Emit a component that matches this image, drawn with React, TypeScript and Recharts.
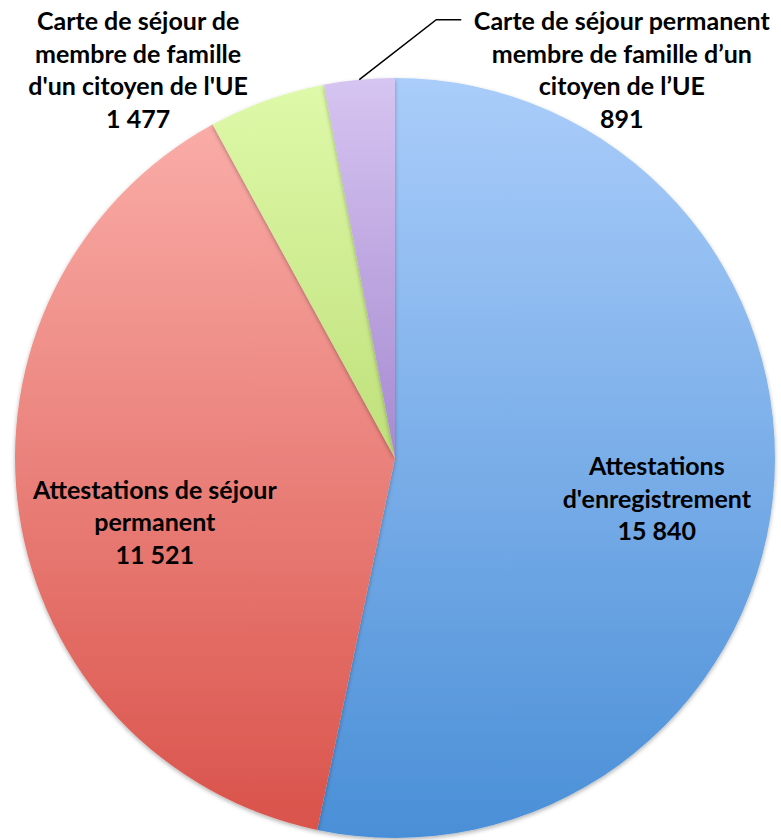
import React from "react";
import { PieChart, Pie, Cell } from "recharts";

const NAMES = [
  ["Attestations", "d'enregistrement"],
  ["Attestations de séjour", "permanent"],
  ["Carte de séjour de", "membre de famille", "d'un citoyen de l'UE"],
  ["Carte de séjour permanent", "membre de famille d\u2019un", "citoyen de l\u2019UE"],
];
const VALUES = [15840, 11521, 1477, 891];
const TOP_COLORS = ["#aacdfa", "#faaca7", "#def9a9", "#d6c4f1"];
const BOTTOM_COLORS = ["#4a8fd7", "#d9534b", "#bfe07a", "#a68ad0"];

// label anchor, relative to center in units of radius
const LABEL_POS = [
  { dx: 0.689, dy: 0.105 },
  { dx: -0.632, dy: 0.166 },
  { dx: -0.676, dy: -1.024 },
  { dx: 0.597, dy: -1.024 },
];

const data = VALUES.map((v, i) => ({ name: NAMES[i].join(" "), value: v }));

const fmt = (n: number) => String(n).replace(/\B(?=(\d{3})+(?!\d))/g, " ");

const FONT = "Lato, 'Open Sans', sans-serif";

function renderLabel(props: any) {
  const { cx, cy, outerRadius, index, midAngle } = props;
  const pos = LABEL_POS[index];
  const x = cx + pos.dx * outerRadius;
  const y = cy + pos.dy * outerRadius;
  const lines = [...NAMES[index], fmt(VALUES[index])];
  const lh = 32.5;
  const startY = y - ((lines.length - 1) * lh) / 2;
  let leader = null;
  if (index === 3) {
    const rad = (Math.PI / 180) * midAngle;
    const px = cx + outerRadius * Math.cos(rad);
    const py = cy - outerRadius * Math.sin(rad);
    leader = (
      <polyline
        points={`${px},${py} ${px + 77},${py - 60} ${px + 102},${py - 60}`}
        fill="none"
        stroke="#000"
        strokeWidth={1.5}
      />
    );
  }
  return (
    <g key={`lbl-${index}`}>
      {leader}
      <text
        x={x}
        y={startY}
        textAnchor="middle"
        dominantBaseline="central"
        fontFamily={FONT}
        fontWeight={700}
        fontSize={25}
        fill="#000"
      >
        {lines.map((l, i) => (
          <tspan key={i} x={x} y={startY + i * lh}>
            {l}
          </tspan>
        ))}
      </text>
    </g>
  );
}

export default function App() {
  return (
    <div style={{ position: "absolute", left: 0, top: 0, width: 781, height: 840, background: "#fff" }}>
      <PieChart width={781} height={840} margin={{ top: 0, right: 0, bottom: 0, left: 0 }}>
        <defs>
          {TOP_COLORS.map((c, i) => (
            <linearGradient key={i} id={`g${i}`} x1="0" y1="0" x2="0" y2="1">
              <stop offset="0%" stopColor={c} />
              <stop offset="100%" stopColor={BOTTOM_COLORS[i]} />
            </linearGradient>
          ))}
          <filter id="sh" x="-10%" y="-10%" width="120%" height="120%">
            <feDropShadow dx="0" dy="2" stdDeviation="2" floodColor="#000" floodOpacity="0.3" />
          </filter>
        </defs>
        <Pie
          data={data}
          dataKey="value"
          cx={395}
          cy={458}
          outerRadius={380}
          startAngle={90}
          endAngle={-270}
          stroke="none"
          label={renderLabel}
          labelLine={false}
          isAnimationActive={false}
          style={{ filter: "url(#sh)" }}
        >
          {data.map((_, i) => (
            <Cell key={i} fill={`url(#g${i})`} />
          ))}
        </Pie>
      </PieChart>
    </div>
  );
}
